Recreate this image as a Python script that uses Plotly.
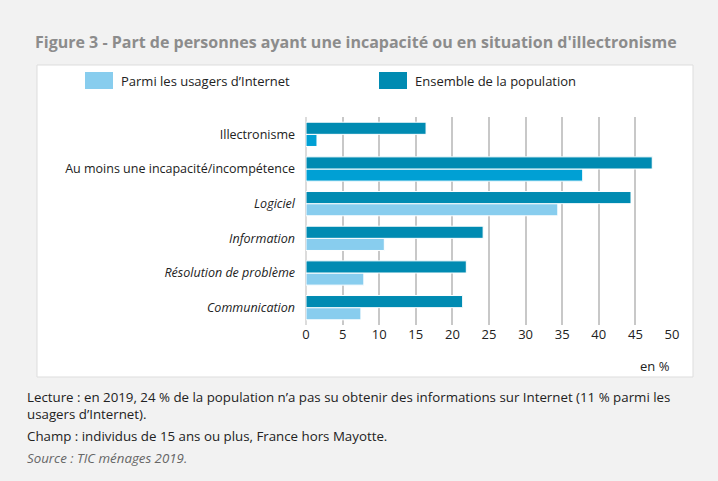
import plotly.graph_objects as go

# categories listed top to bottom as in the figure
categories = ["Illectronisme", "Au moins une incapacité/incompétence", "Logiciel",
              "Information", "Résolution de problème", "Communication"]
tick_labels = ["Illectronisme", "Au moins une incapacité/incompétence", "<i>Logiciel</i>",
               "<i>Information</i>", "<i>Résolution de problème</i>", "<i>Communication</i>"]
usagers = [1.5, 37.8, 34.4, 10.7, 7.9, 7.5]
population = [16.4, 47.3, 44.4, 24.2, 21.9, 21.4]
x_ticks = [0, 5, 10, 15, 20, 25, 30, 35, 40, 45, 50]
series_names = ["Parmi les usagers d’Internet", "Ensemble de la population"]

LIGHT = "#88cdee"
MID = "#00a0d4"
DARK = "#008bb2"
usagers_colors = [MID, MID, LIGHT, LIGHT, LIGHT, LIGHT]

# pixel helpers for paper coordinates (plot area: x 306..672, y 117..325)
def px(x):
    return (x - 306) / 366


def py(y):
    return (325 - y) / 208


fig = go.Figure()
fig.add_trace(go.Bar(
    y=categories, x=usagers, orientation="h", name=series_names[0],
    marker=dict(color=usagers_colors, line=dict(color="white", width=1)),
))
fig.add_trace(go.Bar(
    y=categories, x=population, orientation="h", name=series_names[1],
    marker=dict(color=DARK, line=dict(color="white", width=1)),
))

shapes = [dict(type="rect", xref="paper", yref="paper",
               x0=px(37), x1=px(693), y0=py(377), y1=py(65),
               fillcolor="white", line=dict(color="#dddddd", width=1), layer="below")]

# legend swatches drawn by hand (plotly's bar swatches are too small)
legend_items = [(85, LIGHT, series_names[0]), (379, DARK, series_names[1])]
for x0, color, name in legend_items:
    shapes.append(dict(type="rect", xref="paper", yref="paper",
                       x0=px(x0), x1=px(x0 + 28), y0=py(89), y1=py(72),
                       fillcolor=color, line=dict(width=0)))
    fig.add_annotation(text=name, xref="paper", yref="paper", x=px(x0 + 34), y=py(81),
                       xanchor="left", yanchor="middle", showarrow=False, font=dict(size=13))

fig.update_layout(
    width=718, height=481,
    paper_bgcolor="#f2f2f2", plot_bgcolor="white",
    font=dict(family="Open Sans", size=13, color="#222"),
    margin=dict(l=306, r=46, t=117, b=156, autoexpand=False),
    barmode="group", bargap=0.3, bargroupgap=0,
    showlegend=False,
    title=dict(text="<b>Figure 3 - Part de personnes ayant une incapacité ou en situation d'illectronisme</b>",
               x=35 / 718, xanchor="left", y=1 - 42 / 481, yanchor="middle",
               font=dict(size=16, color="#8c8c8c")),
    shapes=shapes,
)
fig.update_xaxes(range=[0, 50], tickvals=x_ticks, showgrid=True, gridcolor="#c8c8c8",
                 gridwidth=1.5, zeroline=True, zerolinecolor="#dcdcdc", zerolinewidth=1.5,
                 showline=False, ticks="", tickfont=dict(size=13), automargin=False)
fig.update_yaxes(categoryorder="array", categoryarray=categories[::-1],
                 tickvals=categories, ticktext=tick_labels, showgrid=False,
                 ticks="", ticklabelstandoff=10, tickfont=dict(size=12.5), automargin=False)

fig.add_annotation(text="en %", xref="paper", yref="paper", x=1, y=py(366),
                   xanchor="right", yanchor="middle", showarrow=False, font=dict(size=13))

notes = [
    ("Lecture : en 2019, 24 % de la population n’a pas su obtenir des informations sur Internet (11 % parmi les", 397, False),
    ("usagers d’Internet).", 414, False),
    ("Champ : individus de 15 ans ou plus, France hors Mayotte.", 436, False),
    ("Source : TIC ménages 2019.", 458, True),
]
for text, ypix, ital in notes:
    fig.add_annotation(text=f"<i>{text}</i>" if ital else text, xref="paper", yref="paper",
                       x=px(25), y=py(ypix), xanchor="left", yanchor="middle",
                       showarrow=False, font=dict(size=13.3, color="#666" if ital else "#222"))

fig.write_html("out.html", config={"displayModeBar": False},
               post_script="document.body.style.margin = '0';")
